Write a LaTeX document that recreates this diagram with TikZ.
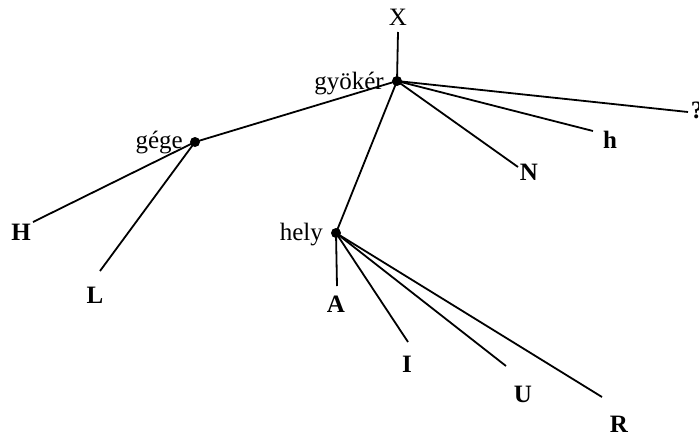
\documentclass[tikz,border=0pt]{standalone}
\usepackage{fontspec}
\setmainfont{Liberation Serif}
\begin{document}
\begin{tikzpicture}[x=1pt,y=-1pt,
  branch/.style={line width=1.8pt},
  knot/.style={circle,fill=black,inner sep=0pt,minimum size=10pt},
  inner/.style={font=\fontsize{25}{28}\selectfont,inner sep=0pt},
  leaf/.style={font=\fontsize{25}{28}\selectfont\bfseries,inner sep=0pt,anchor=base}]
\useasboundingbox (0,0) rectangle (699,437);
% branching points
\node[knot] (root) at (397,81) {};
\node[knot] (gege) at (195,142) {};
\node[knot] (hely) at (336,233) {};
% labels of the branching points
\node[inner,anchor=base east] (rootlab) at (384,89) {gyökér};
\node[inner,anchor=base east] (gegelab) at (183,148) {gége};
\node[inner,anchor=base east] (helylab) at (323,240) {hely};
\node[inner,anchor=base] (X) at (398,25) {X};
% leaves
\node[leaf] (H) at (21,240) {H};
\node[leaf] (L) at (95,303) {L};
\node[leaf] (A) at (336,312) {A};
\node[leaf] (I) at (407,372) {I};
\node[leaf] (U) at (523,402) {U};
\node[leaf] (R) at (619,432) {R};
\node[leaf] (N) at (529,180) {N};
\node[leaf] (h) at (610,148) {h};
\node[leaf] (q) at (697,118) {?};
% free ends of the branches
\coordinate (Xe) at (398,32);
\coordinate (He) at (33,222);
\coordinate (Le) at (100,271);
\coordinate (Ae) at (337,286);
\coordinate (Ie) at (408,342);
\coordinate (Ue) at (506,366);
\coordinate (Re) at (602,397);
\coordinate (Ne) at (518,167);
\coordinate (he) at (593,131);
\coordinate (qe) at (688,112);
% branches
\draw[branch] (root.center) -- (Xe);
\draw[branch] (root.center) -- (gege.center);
\draw[branch] (root.center) -- (hely.center);
\draw[branch] (root.center) -- (Ne);
\draw[branch] (root.center) -- (he);
\draw[branch] (root.center) -- (qe);
\draw[branch] (gege.center) -- (He);
\draw[branch] (gege.center) -- (Le);
\draw[branch] (hely.center) -- (Ae);
\draw[branch] (hely.center) -- (Ie);
\draw[branch] (hely.center) -- (Ue);
\draw[branch] (hely.center) -- (Re);
\end{tikzpicture}
\end{document}
